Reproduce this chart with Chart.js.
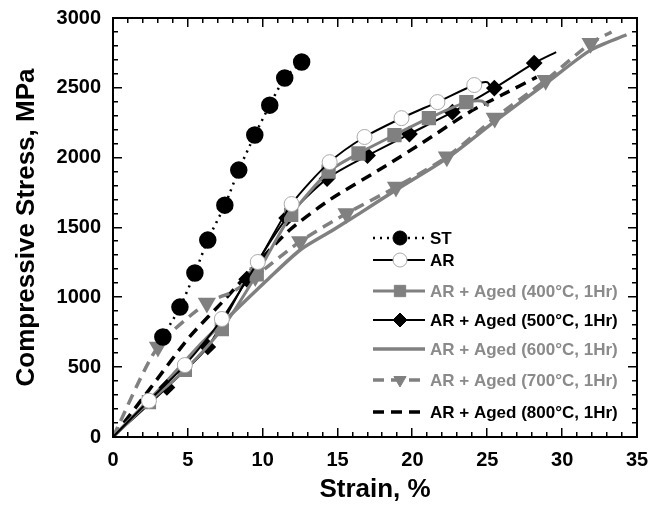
<!DOCTYPE html>
<html>
<head>
<meta charset="utf-8">
<script src="https://cdn.jsdelivr.net/npm/chart.js@4"></script>
<style>
  body { margin: 0; background: #fff; }
  canvas { display: block; }
</style>
</head>
<body>
<canvas id="myChart" width="650" height="509"></canvas>
<script>
// strain (%) and stress (MPa) for each condition
var stAx = [3.33, 4.47, 5.47, 6.33, 7.47, 8.4, 9.47, 10.47, 11.47, 12.6];
var stAy = [716, 930, 1174, 1410, 1660, 1911, 2162, 2376, 2570, 2685];

var arX = [0, 2.4, 4.8, 7.27, 9.67, 11.93, 14.47, 16.8, 19.27, 21.67, 24.13, 25.0, 25.3];
var arY = [0, 260, 515, 845, 1253, 1668, 1968, 2148, 2283, 2398, 2520, 2540, 2490];

var a400X = [0, 2.4, 4.8, 7.27, 9.6, 11.9, 14.4, 16.4, 18.8, 21.1, 23.6, 24.6, 25.1];
var a400Y = [0, 250, 480, 773, 1165, 1590, 1900, 2030, 2162, 2283, 2398, 2405, 2370];

var a500X = [0, 3.6, 6.33, 8.93, 11.6, 14.3, 17.0, 19.8, 22.67, 25.47, 28.13, 29.6];
var a500Y = [0, 355, 645, 1130, 1568, 1850, 2015, 2169, 2326, 2498, 2677, 2756];

var a600X = [0, 3, 6, 8, 10.3, 12.5, 14.7, 16.5, 19, 22.3, 25.5, 28.9, 31.9, 34.3];
var a600Y = [0, 330, 680, 888, 1124, 1339, 1482, 1603, 1775, 1995, 2260, 2530, 2770, 2880];

var a700X = [0, 3.0, 6.27, 8.0, 9.5, 12.5, 15.6, 18.9, 22.3, 25.5, 28.9, 31.9, 33.3];
var a700Y = [0, 645, 960, 1040, 1150, 1400, 1600, 1790, 2006, 2284, 2555, 2819, 2900];

var a800X = [0, 2.5, 5.1, 7.6, 9.6, 11.8, 14.5, 18.2, 21, 23.8, 26, 28.3];
var a800Y = [0, 350, 715, 1000, 1240, 1482, 1700, 1940, 2130, 2326, 2450, 2577];

var LABELS = [
  'ST',
  'AR',
  'AR + Aged (400\u00B0C, 1Hr)',
  'AR + Aged (500\u00B0C, 1Hr)',
  'AR + Aged (600\u00B0C, 1Hr)',
  'AR + Aged (700\u00B0C, 1Hr)',
  'AR + Aged (800\u00B0C, 1Hr)'
];

var X_TICKS = [0, 5, 10, 15, 20, 25, 30, 35];
var Y_TICKS = [0, 500, 1000, 1500, 2000, 2500, 3000];

var GRAY = '#808080';
var FONT = '"Liberation Sans", Arial, sans-serif';

function pts(xs, ys) {
  return xs.map(function (x, i) { return { x: x, y: ys[i] }; });
}
// marker only on the measured points, not on the origin / tail of the curve
function marks(n, from, to, r) {
  var out = [];
  for (var i = 0; i < n; i++) out.push(i >= from && i <= to ? r : 0);
  return out;
}

var datasets = [
  {
    label: LABELS[0], data: pts(stAx, stAy),
    borderColor: '#000', borderWidth: 2.5, borderDash: [2, 5],
    pointStyle: 'circle', pointRadius: 7.5, pointBackgroundColor: '#000', pointBorderColor: '#000',
    legendColor: '#000'
  },
  {
    label: LABELS[1], data: pts(arX, arY),
    borderColor: '#000', borderWidth: 2,
    pointStyle: 'circle', pointRadius: marks(arX.length, 1, 10, 7.5),
    pointBackgroundColor: '#fff', pointBorderColor: '#aaa', pointBorderWidth: 1,
    legendColor: '#000'
  },
  {
    label: LABELS[2], data: pts(a400X, a400Y),
    borderColor: GRAY, borderWidth: 3,
    pointStyle: 'rect', pointRadius: marks(a400X.length, 1, 10, 8),
    pointBackgroundColor: GRAY, pointBorderColor: GRAY,
    legendColor: '#8a8a8a'
  },
  {
    label: LABELS[3], data: pts(a500X, a500Y),
    borderColor: '#000', borderWidth: 2,
    pointStyle: 'rectRot', pointRadius: marks(a500X.length, 1, 10, 7),
    pointBackgroundColor: '#000', pointBorderColor: '#000',
    legendColor: '#000'
  },
  {
    label: LABELS[4], data: pts(a600X, a600Y),
    borderColor: GRAY, borderWidth: 3.5,
    pointRadius: 0,
    legendColor: '#8a8a8a'
  },
  {
    label: LABELS[5], data: pts(a700X, a700Y),
    borderColor: GRAY, borderWidth: 3.5, borderDash: [11, 7],
    pointStyle: 'triangle', pointRotation: 180,
    pointRadius: marks(a700X.length, 1, 11, 7).map(function (r, i) { return i === 3 ? 0 : r; }),
    pointBackgroundColor: GRAY, pointBorderColor: GRAY,
    legendColor: '#8a8a8a'
  },
  {
    label: LABELS[6], data: pts(a800X, a800Y),
    borderColor: '#000', borderWidth: 3.5, borderDash: [11, 7],
    pointRadius: 0,
    legendColor: '#000'
  }
];

datasets.forEach(function (d) {
  d.showLine = true;
  d.tension = 0.25;
  d.fill = false;
});

// box round the plot with inward ticks on all four sides, drawn as filled bars
function drawFrame(chart) {
  var c = chart.ctx, a = chart.chartArea;
  var xs = chart.scales.x, ys = chart.scales.y;
  var L = Math.round(a.left), R = Math.round(a.right), T = Math.round(a.top), B = Math.round(a.bottom);
  c.save();
  c.fillStyle = '#000';
  c.fillRect(L - 1, T - 1, R - L + 2, 2);
  c.fillRect(L - 1, B - 1, R - L + 2, 2);
  c.fillRect(L - 1, T - 1, 2, B - T + 2);
  c.fillRect(R - 1, T - 1, 2, B - T + 2);
  for (var v = 0; v <= 35; v++) {
    var px = Math.round(xs.getPixelForValue(v));
    var len = v % 5 === 0 ? 9 : 5;
    c.fillRect(px - 1, B - len, 1.5, len);
    c.fillRect(px - 1, T, 1.5, len);
  }
  for (var w = 0; w <= 3000; w += 100) {
    var py = Math.round(ys.getPixelForValue(w));
    var l2 = w % 500 === 0 ? 9 : 5;
    c.fillRect(L, py - 1, l2, 1.5);
    c.fillRect(R - l2, py - 1, l2, 1.5);
  }
  c.restore();
}

function drawLegend(chart) {
  var c = chart.ctx;
  var rows = [238, 260, 291, 320, 349, 380, 412];
  chart.data.datasets.forEach(function (d, i) {
    var y = rows[i];
    c.save();
    c.strokeStyle = d.borderColor;
    c.lineWidth = d.borderWidth;
    c.setLineDash(d.borderDash || []);
    c.beginPath();
    c.moveTo(373, y); c.lineTo(425, y);
    c.stroke();
    c.restore();
    if (d.pointStyle) {
      c.save();
      c.fillStyle = d.pointBackgroundColor;
      c.strokeStyle = d.pointBorderColor;
      c.lineWidth = d.pointBorderWidth || 1;
      Chart.helpers.drawPoint(c, {
        pointStyle: d.pointStyle,
        radius: d.pointStyle === 'rect' ? 8 : 7,
        rotation: d.pointRotation || 0,
        borderWidth: d.pointBorderWidth || 1
      }, 400, y);
      c.restore();
    }
    c.save();
    c.fillStyle = d.legendColor;
    c.font = 'bold 17px ' + FONT;
    c.textBaseline = 'middle';
    c.fillText(d.label, 430, y + 1);
    c.restore();
  });
}

var decorations = {
  id: 'decorations',
  afterDraw: function (chart) {
    drawFrame(chart);
    drawLegend(chart);
  }
};

new Chart(document.getElementById('myChart'), {
  type: 'scatter',
  data: { datasets: datasets },
  plugins: [decorations],
  options: {
    responsive: false,
    animation: false,
    layout: { padding: { left: 0, top: 18, right: 13, bottom: 0 } },
    plugins: {
      legend: { display: false },
      tooltip: { enabled: false }
    },
    scales: {
      x: {
        type: 'linear',
        min: 0, max: 35,
        afterBuildTicks: function (s) { s.ticks = X_TICKS.map(function (v) { return { value: v }; }); },
        afterFit: function (s) { s.height = 72; s.paddingLeft = 0; s.paddingRight = 0; },
        ticks: {
          color: '#000', font: { family: FONT, size: 20, weight: 'bold' }, padding: 11, maxRotation: 0,
          callback: function (v) { return String(v); }
        },
        grid: { display: false, drawTicks: false },
        border: { display: false },
        title: {
          display: true, text: 'Strain, %', color: '#000',
          font: { family: FONT, size: 26, weight: 'bold' },
          padding: { top: 0, bottom: 4 }
        }
      },
      y: {
        type: 'linear',
        min: 0, max: 3000,
        afterBuildTicks: function (s) { s.ticks = Y_TICKS.map(function (v) { return { value: v }; }); },
        afterFit: function (s) { s.width = 113; s.paddingTop = 0; s.paddingBottom = 0; },
        ticks: {
          color: '#000', font: { family: FONT, size: 20, weight: 'bold' }, padding: 12,
          callback: function (v) { return String(v); }
        },
        grid: { display: false, drawTicks: false },
        border: { display: false },
        title: {
          display: true, text: 'Compressive Stress, MPa', color: '#000',
          font: { family: FONT, size: 26, weight: 'bold' },
          padding: { top: 11, bottom: 0 }
        }
      }
    }
  }
});
</script>
</body>
</html>
